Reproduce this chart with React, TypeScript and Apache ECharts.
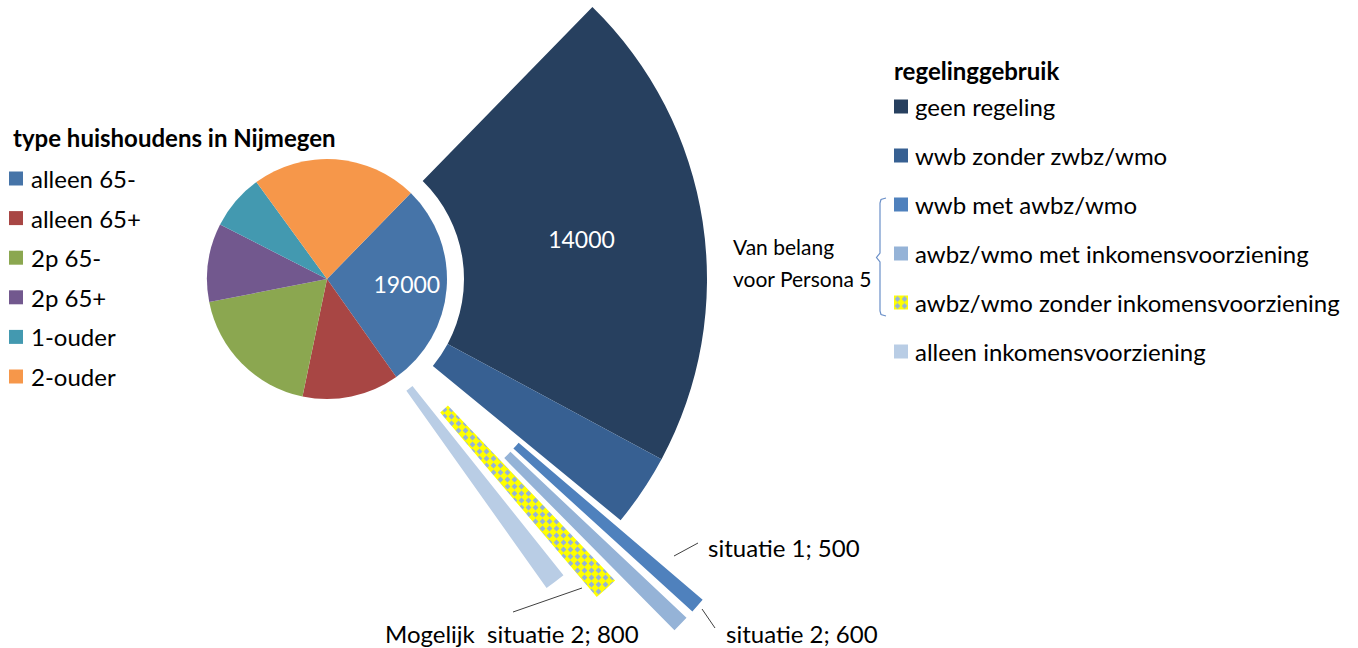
import React, { useEffect, useRef } from 'react';
import * as echarts from 'echarts';

// ---- data ----
const householdTypes = ['alleen 65-', 'alleen 65+', '2p 65-', '2p 65+', '1-ouder', '2-ouder'];
const householdValues = [19000, 8900, 12700, 7200, 5100, 15200];
const householdColors = ['#4674A8', '#A84644', '#8BA750', '#72588E', '#4399B0', '#F6974A'];

const regelingNames = [
  'geen regeling',
  'wwb zonder zwbz/wmo',
  'wwb met awbz/wmo',
  'awbz/wmo met inkomensvoorziening',
  'awbz/wmo zonder inkomensvoorziening',
  'alleen inkomensvoorziening',
];
const regelingValues = [14000, 2100, 500, 600, 800, 1000];
const regelingColors = ['#27405F', '#376092', '#4F81BD', '#95B3D7', 'PATTERN', '#B9CDE5'];
const stripLabels = ['situatie 1', 'situatie 2', 'Mogelijk  situatie 2', ''];

const titleLeft = 'type huishoudens in Nijmegen';
const titleRight = 'regelinggebruik';
const noteText = 'Van belang\nvoor Persona 5';

// ---- layout ----
const CENTER = [327, 279];
const PIE_START = 45.7;
const stripStart = [-40.5, -43.3, -46.3, -51.4];
const stripEnd = [-42.3, -45.3, -49.7, -54.6];
const stripRadius = [[252, 494], [252, 494], [175, 417], [137, 379]];
const FONT = 'Lato';
const FS = 24;

function makePattern() {
  const c = document.createElement('canvas');
  c.width = 7;
  c.height = 7;
  const ctx = c.getContext('2d')!;
  ctx.fillStyle = '#FFFF00';
  ctx.fillRect(0, 0, 7, 7);
  ctx.fillStyle = '#95B3D7';
  ctx.beginPath();
  ctx.moveTo(3.5, 0.6);
  ctx.lineTo(6.4, 3.5);
  ctx.lineTo(3.5, 6.4);
  ctx.lineTo(0.6, 3.5);
  ctx.closePath();
  ctx.fill();
  return { image: c, repeat: 'repeat', imageWidth: 7, imageHeight: 7 } as any;
}

export default function App() {
  const ref = useRef<HTMLDivElement>(null);
  useEffect(() => {
    document.body.style.margin = '0';
    const chart = echarts.init(ref.current!, null, { renderer: 'svg' });
    const pattern = makePattern();
    const colorOf = (i: number) => (regelingColors[i] === 'PATTERN' ? pattern : regelingColors[i]);
    const total = householdValues.reduce((a, b) => a + b, 0);
    const fanEnd = PIE_START - ((regelingValues[0] + regelingValues[1]) / total) * 360;

    const series: any[] = [
      {
        type: 'pie',
        name: 'huishoudens',
        center: CENTER,
        radius: [0, 120],
        startAngle: PIE_START,
        clockwise: true,
        silent: true,
        itemStyle: { borderWidth: 0 },
        label: { show: false },
        labelLine: { show: false },
        data: householdTypes.map((n, i) => ({
          name: n,
          value: householdValues[i],
          itemStyle: { color: householdColors[i] },
          label:
            i === 0
              ? {
                  show: true,
                  position: 'inside',
                  formatter: '{c}',
                  color: '#fff',
                  fontFamily: FONT,
                  fontSize: 23,
                  padding: [0, 0, 0, 34],
                }
              : { show: false },
        })),
      },
      {
        type: 'pie',
        name: 'fan',
        center: CENTER,
        radius: [137, 380],
        startAngle: PIE_START,
        endAngle: fanEnd,
        clockwise: true,
        silent: true,
        itemStyle: { borderWidth: 0 },
        label: { show: false },
        labelLine: { show: false },
        data: [0, 1].map((i) => ({
          name: regelingNames[i],
          value: regelingValues[i],
          itemStyle: { color: colorOf(i) },
          label:
            i === 0
              ? {
                  show: true,
                  position: 'inside',
                  formatter: '{c}',
                  color: '#fff',
                  fontFamily: FONT,
                  fontSize: 23,
                  padding: [0, 8, 0, 0],
                }
              : { show: false },
        })),
      },
    ];
    for (let k = 0; k < 4; k++) {
      const i = k + 2;
      series.push({
        type: 'pie',
        name: 'strip' + k,
        center: CENTER,
        radius: stripRadius[k],
        startAngle: stripStart[k],
        endAngle: stripEnd[k],
        clockwise: true,
        silent: true,
        itemStyle: { borderWidth: 0 },
        label: { show: false },
        labelLine: { show: false },
        data: [{ name: regelingNames[i], value: regelingValues[i], itemStyle: { color: colorOf(i) } }],
      });
    }

    const txt = (text: string, x: number, y: number) => ({
      type: 'text',
      x,
      y,
      style: { text, fill: '#000', fontFamily: FONT, fontSize: FS, verticalAlign: 'middle' },
    });
    const line = (x1: number, y1: number, x2: number, y2: number) => ({
      type: 'line',
      shape: { x1, y1, x2, y2 },
      style: { stroke: '#404040', lineWidth: 1 },
    });

    const option: any = {
      animation: false,
      backgroundColor: '#fff',
      title: [
        {
          text: titleLeft,
          left: 13,
          top: 123,
          padding: 0,
          textStyle: { fontFamily: FONT, fontWeight: 'bold', fontSize: FS, color: '#000', lineHeight: 28 },
        },
        {
          text: titleRight,
          left: 894,
          top: 56,
          padding: 0,
          textStyle: { fontFamily: FONT, fontWeight: 'bold', fontSize: FS, color: '#000', lineHeight: 28 },
        },
      ],
      legend: [
        {
          data: householdTypes,
          orient: 'vertical',
          left: 9,
          top: 166.5,
          padding: 0,
          itemGap: 15.6,
          itemWidth: 14,
          itemHeight: 14,
          icon: 'rect',
          selectedMode: false,
          textStyle: { fontFamily: FONT, fontSize: FS, color: '#000', lineHeight: 24, padding: [0, 0, 0, 3] },
        },
        {
          data: regelingNames,
          orient: 'vertical',
          left: 894,
          top: 94.5,
          padding: 0,
          itemGap: 25,
          itemWidth: 14,
          itemHeight: 14,
          icon: 'rect',
          selectedMode: false,
          textStyle: { fontFamily: FONT, fontSize: FS, color: '#000', lineHeight: 24, padding: [0, 0, 0, 2] },
        },
      ],
      series,
      graphic: [
        {
          type: 'text',
          x: 733,
          y: 262,
          style: { text: noteText, fill: '#000', fontFamily: FONT, fontSize: 21, lineHeight: 32, verticalAlign: 'middle' },
        },
        {
          type: 'polyline',
          shape: {
            points: [
              [886, 198], [881, 199.5], [880, 203], [880, 253], [876.5, 257.5], [880, 262], [880, 311], [881, 314.5], [886, 316],
            ],
          },
          style: { stroke: '#6A8FC8', lineWidth: 1.2, fill: null },
        },
        line(674, 556, 698, 543),
        txt(stripLabels[0] + '; ' + regelingValues[2], 708, 547),
        line(702, 609, 715, 628),
        txt(stripLabels[1] + '; ' + regelingValues[3], 726, 633),
        line(513, 612, 582, 588),
        txt(stripLabels[2] + '; ' + regelingValues[4], 385, 633),
      ],
    };
    chart.setOption(option);
    return () => chart.dispose();
  }, []);
  return <div ref={ref} style={{ width: 1358, height: 648 }} />;
}
